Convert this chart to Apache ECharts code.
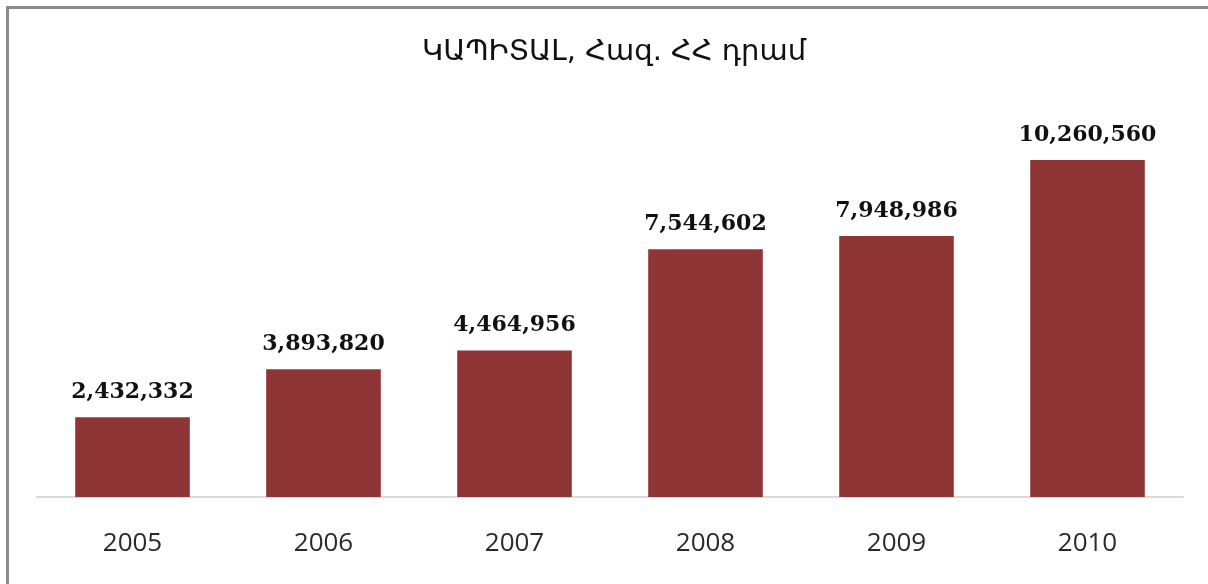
<!DOCTYPE html>
<html>
<head>
<meta charset="utf-8">
<script src="https://cdn.jsdelivr.net/npm/echarts@6/dist/echarts.min.js"></script>
<style>
  html, body { margin: 0; padding: 0; background: #fff; }
  .frame {
    position: absolute; left: 6px; top: 6px; width: 1202px; height: 578px;
    border-top: 3px solid #8c8c8c; border-left: 3px solid #8c8c8c;
    box-sizing: border-box;
  }
  #chart { position: absolute; left: 0; top: 0; width: 1208px; height: 584px; }
</style>
</head>
<body>
<div class="frame"></div>
<div id="chart"></div>
<script>
// chart data
const titleText = 'ԿԱՊԻՏԱԼ, Հազ. ՀՀ դրամ'
const years = ['2005', '2006', '2007', '2008', '2009', '2010']
const capital = [2432332, 3893820, 4464956, 7544602, 7948986, 10260560]

const chart = echarts.init(document.getElementById('chart'))

chart.setOption({
  animation: false,
  title: {
    text: titleText,
    left: 609,
    textAlign: 'center',
    top: 33,
    textStyle: {
      fontFamily: 'DejaVu Sans',
      fontSize: 29,
      fontWeight: 'normal',
      color: '#111'
    }
  },
  grid: {
    left: 37,
    right: 25,
    top: 103,
    bottom: 87
  },
  xAxis: {
    type: 'category',
    data: years,
    axisTick: { show: false },
    axisLine: {
      lineStyle: { color: '#d9d9d9', width: 2 }
    },
    axisLabel: {
      margin: 34,
      fontFamily: 'Open Sans',
      fontSize: 26,
      color: '#2a2a2a'
    }
  },
  yAxis: {
    type: 'value',
    min: 0,
    max: 12000000,
    show: false,
    splitLine: { show: false }
  },
  series: [{
    type: 'bar',
    data: capital,
    barWidth: '60%',
    itemStyle: {
      color: '#903535'
    },
    label: {
      show: true,
      position: 'top',
      distance: 14,
      fontFamily: 'DejaVu Serif',
      fontWeight: 'bold',
      fontSize: 22,
      color: '#111',
      formatter: p => p.value.toLocaleString('en-US')
    }
  }]
})
</script>
</body>
</html>
